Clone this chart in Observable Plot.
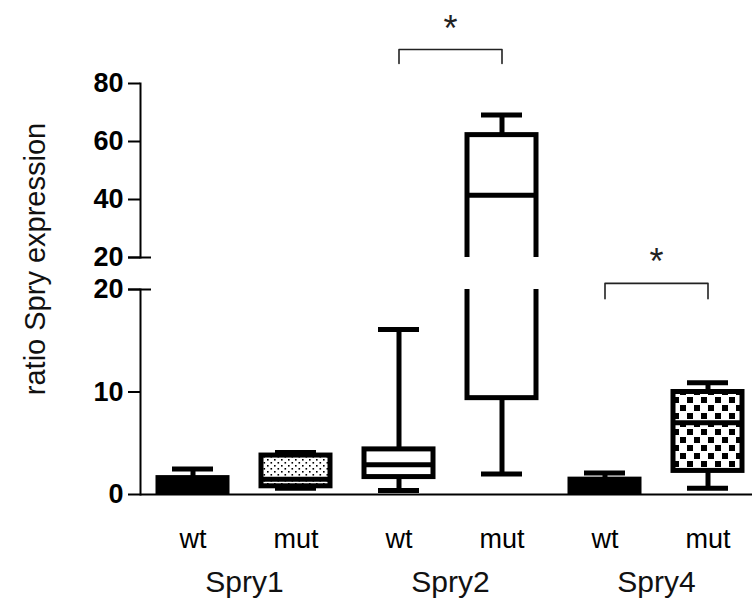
<!DOCTYPE html>
<html><head><meta charset="utf-8">
<script src="https://cdn.jsdelivr.net/npm/d3@7"></script>
<script src="https://cdn.jsdelivr.net/npm/@observablehq/plot@0.6"></script>
<style>
body{margin:0;background:#fff;font-family:"Liberation Sans",Arial,sans-serif;}
#wrap{position:relative;width:752px;height:603px;overflow:hidden;}
#top{position:absolute;left:0;top:0;}
#bottom{position:absolute;left:0;top:236px;}
#ylab{position:absolute;left:35px;top:259px;transform:translate(-50%,-50%) rotate(-90deg);white-space:nowrap;font-size:29px;color:#111;}
</style></head><body>
<svg width="0" height="0" style="position:absolute">
<defs>
<pattern id="dots" width="7" height="6" patternUnits="userSpaceOnUse">
 <rect width="7" height="6" fill="white"/>
 <rect x="1" y="1" width="1.6" height="1.6" fill="black"/>
 <rect x="4.5" y="4" width="1.6" height="1.6" fill="black"/>
</pattern>
<pattern id="checks" width="14" height="16" patternUnits="userSpaceOnUse">
 <rect width="14" height="16" fill="white"/>
 <rect x="1" y="1" width="6" height="6" fill="black"/>
 <rect x="8" y="9" width="6" height="6" fill="black"/>
</pattern>
</defs></svg>
<div id="wrap">
 <div id="top"></div>
 <div id="bottom"></div>
 <div id="ylab">ratio Spry expression</div>
</div>
<script>
// ---- data ----
const genes = ["Spry1", "Spry1", "Spry2", "Spry2", "Spry4", "Spry4"];
const genotypes = ["wt", "mut", "wt", "mut", "wt", "mut"];
const mins    = [0.1, 0.6, 0.4, 2.0, 0.1, 0.6];
const q1s     = [0.2, 0.8, 1.7, 9.4, 0.2, 2.3];
const medians = [0.8, 1.5, 2.9, 41.5, 0.7, 7.0];
const q3s     = [1.6, 3.8, 4.4, 62.2, 1.45, 10.0];
const maxs    = [2.5, 4.1, 16.1, 69.1, 2.1, 10.9];
const geneNames = ["Spry1", "Spry2", "Spry4"];
const upperTicks = [20, 40, 60, 80];
const lowerTicks = [0, 10, 20];
const breakValue = [20];
const sigGenes = ["Spry2", "Spry4"];
const sigPanel = ["upper", "lower"];
const sigBracketY = [91.7, 20.6];
const sigLegY = [86.9, 19.1];
const sigStarY = [98.8, 22.6];

// ---- styles ----
const fillStyle = ["black", "url(#dots)", "white", "white", "black", "url(#checks)"];

const rows = genes.map((g, i) => ({
  key: g + " " + genotypes[i], min: mins[i], q1: q1s[i], median: medians[i],
  q3: q3s[i], max: maxs[i], fill: fillStyle[i]
}));
const keys = rows.map(d => d.key);

function boxMarks() {
  const sw = 5;
  return [
    Plot.ruleX(rows, {x: "key", y1: "min", y2: "q1", stroke: "black", strokeWidth: sw, clip: true}),
    Plot.ruleX(rows, {x: "key", y1: "q3", y2: "max", stroke: "black", strokeWidth: sw, clip: true}),
    Plot.barY(rows, {x: "key", y1: "q1", y2: "q3", fill: "fill", stroke: "black", strokeWidth: sw, insetLeft: 17, insetRight: 17, clip: true}),
    Plot.tickY(rows, {x: "key", y: "median", stroke: "black", strokeWidth: sw, insetLeft: 17, insetRight: 17, clip: true}),
    Plot.tickY(rows, {x: "key", y: "min", stroke: "black", strokeWidth: sw, insetLeft: 31, insetRight: 31, clip: true}),
    Plot.tickY(rows, {x: "key", y: "max", stroke: "black", strokeWidth: sw, insetLeft: 31, insetRight: 31, clip: true})
  ];
}

// break marker: the 20 tick crossing the axis line
function breakTick() {
  return Plot.tickY(breakValue.map(v => ({k: keys[0], v})), {x: "k", y: "v", insetLeft: -13, insetRight: 93, stroke: "black", strokeWidth: 2});
}

function sigMarks(panel) {
  const pts = [], stars = [];
  sigGenes.forEach((g, i) => {
    if (sigPanel[i] !== panel) return;
    pts.push({g, k: g + " wt", y: sigLegY[i]}, {g, k: g + " wt", y: sigBracketY[i]},
             {g, k: g + " mut", y: sigBracketY[i]}, {g, k: g + " mut", y: sigLegY[i]});
    stars.push({k: g + " wt", y: sigStarY[i]});
  });
  return [
    Plot.line(pts, {x: "k", y: "y", z: "g", stroke: "#222", strokeWidth: 1.6, curve: "linear"}),
    Plot.text(stars, {x: "k", y: "y", text: () => "*", dx: 51.5, fontSize: 36, fill: "#222"})
  ];
}

const common = {
  width: 752, marginLeft: 140, marginRight: 0,
  x: {domain: keys, range: [141, 759], padding: 0},
  color: {type: "identity"},
  style: {background: "transparent", overflow: "visible", fontFamily: "'Liberation Sans', Arial, sans-serif"}
};

const upper = Plot.plot({
  ...common,
  height: 264, marginTop: 83, marginBottom: 7,
  y: {domain: [20, 80]},
  marks: [
    ...boxMarks(),
    Plot.frame({anchor: "left", strokeWidth: 2}),
    Plot.axisY(upperTicks, {tickSize: 12, tickPadding: 5, fontSize: 27, fontWeight: "bold", strokeWidth: 2, label: null}),
    breakTick(),
    Plot.axisX({ticks: [], label: null, tickSize: 0}),
    ...sigMarks("upper")
  ]
});

const lower = Plot.plot({
  ...common,
  height: 367, marginTop: 53, marginBottom: 109,
  y: {domain: [0, 20]},
  marks: [
    ...boxMarks(),
    Plot.frame({anchor: "left", strokeWidth: 2}),
    Plot.ruleY([0], {strokeWidth: 2}),
    Plot.axisY(lowerTicks, {tickSize: 12, tickPadding: 5, fontSize: 27, fontWeight: "bold", strokeWidth: 2, label: null}),
    breakTick(),
    Plot.axisX({tickSize: 0, tickPadding: 34, fontSize: 27, label: null, tickFormat: k => k.split(" ")[1]}),
    Plot.text(geneNames, {x: g => g + " wt", dx: 51.5, frameAnchor: "bottom", dy: 97, fontSize: 30, fill: "#111"}),
    ...sigMarks("lower")
  ]
});

document.getElementById("top").append(upper);
document.getElementById("bottom").append(lower);
</script>
</body></html>
